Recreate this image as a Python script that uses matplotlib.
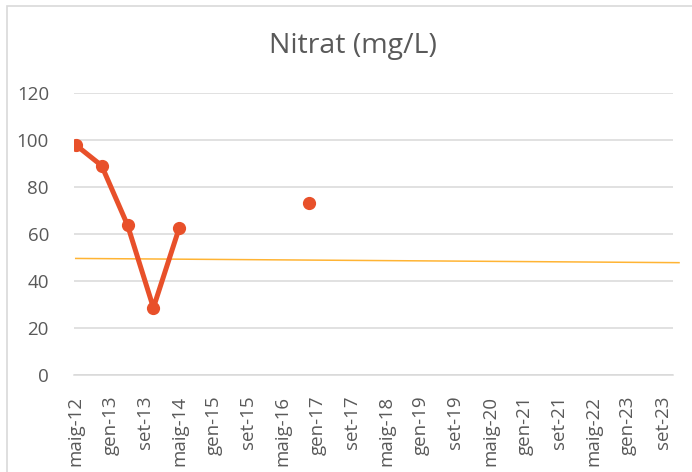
import matplotlib
matplotlib.use("Agg")
import matplotlib.pyplot as plt
from matplotlib.patches import Rectangle
import numpy as np

# Sampling dates, months counted from May 2012
sample_months = [0, 6, 12, 18, 24]
sample_nitrate = [97.9, 89.1, 63.8, 28.6, 62.7]
late_month = [54]
late_nitrate = [73.0]

# Reference level line (start, end)
ref_months = [0, 139.8]
ref_values = [49.6, 47.8]

tick_labels = ["maig-12", "gen-13", "set-13", "maig-14", "gen-15", "set-15",
               "maig-16", "gen-17", "set-17", "maig-18", "gen-19", "set-19",
               "maig-20", "gen-21", "set-21", "maig-22", "gen-23", "set-23"]
tick_step = 8

plt.rcParams['font.family'] = ['Open Sans', 'DejaVu Sans']

fig = plt.figure(figsize=(6.92, 4.72), dpi=100)
fig.patches.append(Rectangle((7 / 692, -0.1), 1.2, 1 - 6 / 472 + 0.1,
                             transform=fig.transFigure, fill=False,
                             edgecolor="#d9d9d9", linewidth=1.2))

ax = fig.add_axes([74 / 692, 1 - 375 / 472, (673 - 74) / 692, (375 - 93) / 472])

orange = "#E8502A"
ax.plot(sample_months, sample_nitrate, color=orange, linewidth=3.6,
        marker="o", markersize=8.5, zorder=3)
ax.plot(late_month, late_nitrate, color=orange, linestyle="none",
        marker="o", markersize=8.5, zorder=3)
ax.plot(ref_months, ref_values, color="#FFB434", linewidth=1.1,
        clip_on=False, zorder=2)

ax.set_ylim(0, 120)
ax.set_yticks(np.arange(0, 121, 20))
ax.set_xlim(-0.4, 138.4)
ticks = np.arange(len(tick_labels)) * tick_step
ax.set_xticks(ticks)
ax.set_xticklabels(tick_labels, rotation=90)

ax.grid(axis="y", color="#d9d9d9", linewidth=1.1)
ax.set_axisbelow(True)
for side in ["top", "right", "left"]:
    ax.spines[side].set_visible(False)
ax.spines["bottom"].set_color("#d9d9d9")
ax.spines["bottom"].set_linewidth(1.1)
ax.tick_params(axis="both", length=0, colors="#595959", labelsize=13.5)
ax.tick_params(axis="y", pad=18)
ax.tick_params(axis="x", pad=15)

fig.text(353 / 692, 1 - 46 / 472, "Nitrat (mg/L)", ha="center", va="center",
         fontsize=20.5, color="#595959")

fig.savefig("out.png", dpi=100)
